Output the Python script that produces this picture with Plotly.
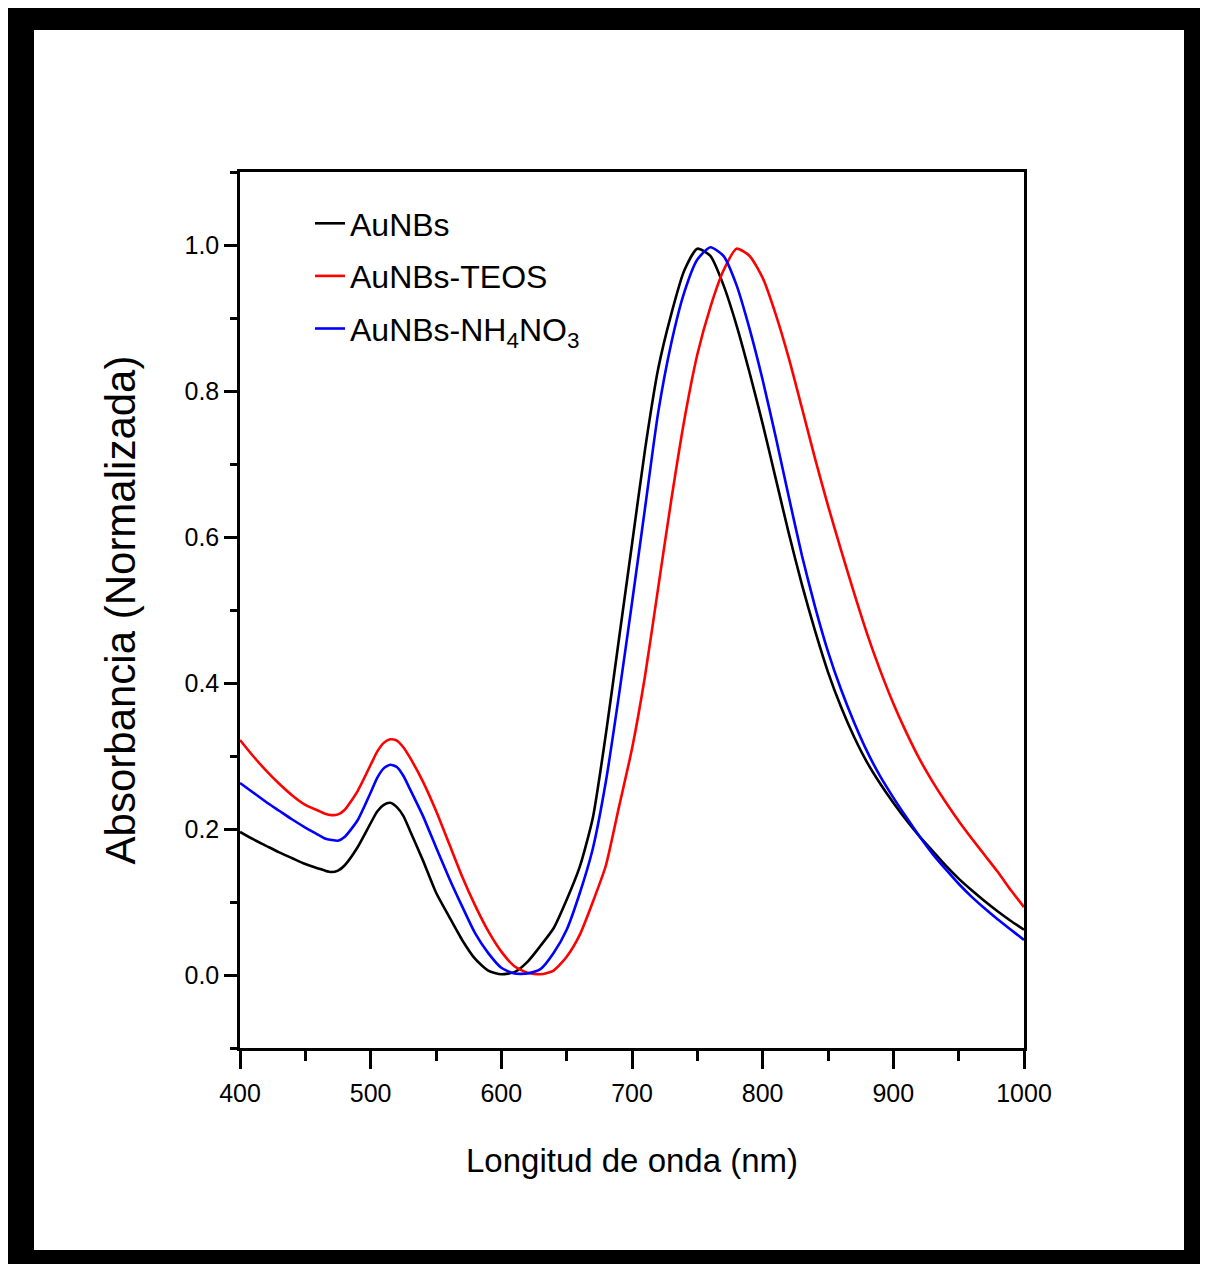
import plotly.graph_objects as go

# Wavelength grid (nm)
wavelength = [400, 410, 420, 430, 440, 450, 460, 465, 470, 475, 480, 490,
              500, 505, 510, 515, 520, 525, 530, 540, 550, 560, 570, 580, 590,
              600, 610, 620, 630, 640, 650, 660, 670, 680, 690,
              700, 710, 720, 730, 740, 750, 760, 770, 780, 790,
              800, 810, 820, 830, 840, 850, 860, 870, 880, 890,
              900, 910, 920, 930, 940, 950, 960, 970, 980, 990, 1000]

aunbs = [0.196, 0.186, 0.177, 0.168, 0.160, 0.152, 0.146, 0.143, 0.141, 0.143, 0.150, 0.175,
         0.208, 0.224, 0.233, 0.236, 0.230, 0.218, 0.198, 0.157, 0.113, 0.080, 0.048, 0.022, 0.006,
         0.001, 0.004, 0.018, 0.040, 0.064, 0.103, 0.148, 0.215, 0.330, 0.460,
         0.590, 0.720, 0.830, 0.905, 0.965, 0.995, 0.985, 0.945, 0.890, 0.825,
         0.755, 0.680, 0.605, 0.535, 0.472, 0.415, 0.367, 0.326, 0.291, 0.262,
         0.236, 0.212, 0.190, 0.170, 0.150, 0.132, 0.116, 0.101, 0.087, 0.074, 0.062]

aunbs_teos = [0.322, 0.300, 0.280, 0.262, 0.246, 0.233, 0.225, 0.221, 0.219, 0.220, 0.226, 0.252,
              0.288, 0.306, 0.318, 0.323, 0.321, 0.312, 0.298, 0.265, 0.225, 0.180, 0.135, 0.095, 0.060,
              0.032, 0.012, 0.003, 0.001, 0.006, 0.025, 0.055, 0.100, 0.150, 0.230,
              0.310, 0.410, 0.530, 0.650, 0.760, 0.850, 0.915, 0.965, 0.995, 0.985,
              0.955, 0.905, 0.845, 0.777, 0.708, 0.643, 0.582, 0.523, 0.467, 0.417,
              0.372, 0.332, 0.296, 0.265, 0.237, 0.211, 0.187, 0.164, 0.141, 0.116, 0.093]

aunbs_nh4no3 = [0.263, 0.250, 0.237, 0.225, 0.213, 0.202, 0.192, 0.187, 0.185, 0.184, 0.189, 0.212,
                0.250, 0.270, 0.283, 0.288, 0.285, 0.273, 0.255, 0.218, 0.175, 0.133, 0.094, 0.057, 0.030,
                0.010, 0.002, 0.002, 0.008, 0.030, 0.062, 0.112, 0.173, 0.265, 0.383,
                0.510, 0.640, 0.770, 0.865, 0.935, 0.980, 0.997, 0.985, 0.945, 0.885,
                0.815, 0.737, 0.655, 0.575, 0.505, 0.443, 0.391, 0.346, 0.306, 0.272,
                0.243, 0.216, 0.190, 0.166, 0.145, 0.125, 0.107, 0.091, 0.076, 0.062, 0.048]

series_names = ["AuNBs", "AuNBs-TEOS", "AuNBs-NH<sub>4</sub>NO<sub>3</sub>"]
series_values = [aunbs, aunbs_teos, aunbs_nh4no3]
series_colors = ["#000000", "#ff0000", "#0000ff"]

x_ticks = [400, 500, 600, 700, 800, 900, 1000]
y_ticks = [0.0, 0.2, 0.4, 0.6, 0.8, 1.0]

# page has an 8px body margin, so the figure is drawn 8px in from the window edge
OFF = 8
W, H = 1192, 1256
L, T = 240 - OFF, 172 - OFF
R = W - (1024 - OFF)
B = H - (1048 - OFF)
pw, ph = W - L - R, H - T - B


def px_x(p):  # window pixel -> paper x
    return (p - OFF - L) / pw


def px_y(p):  # window pixel -> paper y
    return (H - B - (p - OFF)) / ph


fig = go.Figure()
for i, (name, vals, col) in enumerate(zip(series_names, series_values, series_colors)):
    fig.add_trace(go.Scatter(
        x=wavelength, y=vals, name=name, mode="lines",
        line=dict(color=col, width=2.6, shape="spline", smoothing=0.6),
        legendgroup=f"g{i}",
    ))

FONT = "Liberation Sans, Arial, sans-serif"
tick_font = dict(family=FONT, size=25, color="black")

fig.update_layout(
    width=W, height=H,
    margin=dict(l=L, r=R, t=T, b=B, autoexpand=False),
    paper_bgcolor="white",
    plot_bgcolor="rgba(0,0,0,0)",
    showlegend=True,
    legend=dict(
        x=px_x(310), y=px_y(196), xanchor="left", yanchor="top",
        bgcolor="rgba(0,0,0,0)", borderwidth=0,
        font=dict(family=FONT, size=32, color="black"),
        tracegroupgap=8,
    ),
    xaxis=dict(
        range=[400, 1000], tickmode="array", tickvals=x_ticks,
        ticks="outside", ticklen=18, tickwidth=2.5, tickcolor="black",
        ticklabelstandoff=3,
        minor=dict(dtick=50, ticks="outside", ticklen=10, tickwidth=2.5, tickcolor="black"),
        showline=True, linewidth=2.5, linecolor="black", mirror=True,
        showgrid=False, zeroline=False,
        tickfont=tick_font,
        title=dict(text="Longitud de onda (nm)", standoff=44,
                   font=dict(family=FONT, size=33, color="black")),
    ),
    yaxis=dict(
        range=[-0.1, 1.1], tickmode="array", tickvals=y_ticks, tickformat=".1f",
        ticks="outside", ticklen=13, tickwidth=2.5, tickcolor="black",
        minor=dict(dtick=0.1, ticks="outside", ticklen=7, tickwidth=2.5, tickcolor="black"),
        showline=True, linewidth=2.5, linecolor="black", mirror=True,
        showgrid=False, zeroline=False,
        tickfont=tick_font,
        title=dict(text="Absorbancia (Normalizada)", standoff=36,
                   font=dict(family=FONT, size=42, color="black")),
    ),
    shapes=[
        dict(type="rect", xref="paper", yref="paper", layer="below",
             x0=px_x(8), x1=px_x(1208), y0=px_y(1272), y1=px_y(4),
             fillcolor="black", line=dict(width=0)),
        dict(type="rect", xref="paper", yref="paper", layer="below",
             x0=px_x(34), x1=px_x(1184), y0=px_y(1250), y1=px_y(30),
             fillcolor="white", line=dict(width=0)),
    ],
)

fig.write_html("out.html")
